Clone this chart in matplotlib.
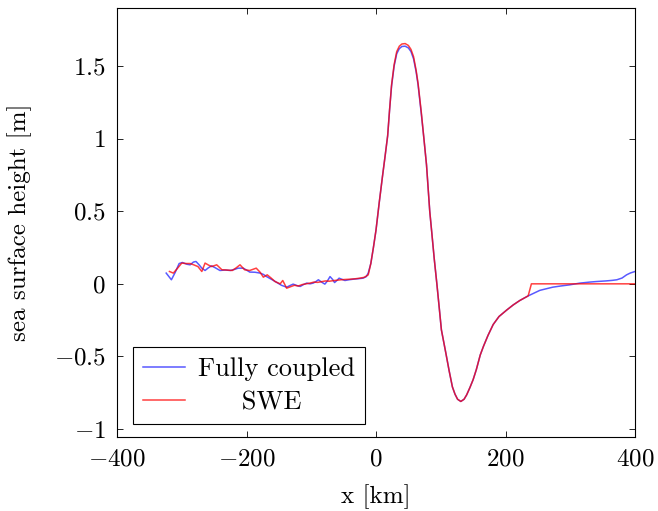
import matplotlib.pyplot as plt
from matplotlib.ticker import FuncFormatter

plt.rcParams['font.family'] = 'serif'
plt.rcParams['font.serif'] = ['cmr10', 'DejaVu Serif']
plt.rcParams['mathtext.fontset'] = 'cm'
plt.rcParams['axes.unicode_minus'] = True

# fully coupled model
blue_x = [-324, -316, -310, -304, -299, -292, -287, -282, -278, -273, -269, -264, -259, -254,
          -248, -241, -233, -225, -218, -213, -205, -200, -195, -187, -179, -174, -169, -161,
          -153, -146, -138, -133, -128, -122, -117, -112, -107, -102, -97, -93, -89, -84, -79,
          -75, -71, -67, -64, -60, -57, -52, -48, -42, -35, -28, -20, -15, -12, -8, -4, 0, 5,
          10, 14, 18, 21, 24, 28, 32, 36, 40, 45, 50, 54, 58, 62, 65, 70, 74, 78, 83, 86, 90,
          94, 98, 101, 108, 113, 118, 122, 126, 131, 136, 140, 145, 150, 155, 161, 166, 173,
          181, 190, 202, 212, 222, 235, 253, 262, 273, 285, 299, 315, 330, 341, 355, 365, 372,
          380, 387, 393, 400]
blue_y = [0.074, 0.028, 0.08, 0.14, 0.147, 0.135, 0.131, 0.15, 0.154, 0.13, 0.108, 0.092, 0.11,
          0.124, 0.11, 0.092, 0.095, 0.092, 0.10, 0.108, 0.108, 0.095, 0.081, 0.08, 0.074, 0.065,
          0.05, 0.03, 0.009, -0.01, -0.023, -0.012, -0.002, -0.012, -0.018, -0.005, 0.005, 0.0,
          0.005, 0.015, 0.028, 0.012, -0.002, 0.02, 0.05, 0.03, 0.009, 0.025, 0.039, 0.03, 0.023,
          0.028, 0.032, 0.035, 0.039, 0.05, 0.074, 0.14, 0.25, 0.37, 0.56, 0.74, 0.878, 1.02,
          1.2, 1.36, 1.50, 1.585, 1.62, 1.635, 1.637, 1.625, 1.6, 1.55, 1.46, 1.37, 1.17, 1.0,
          0.82, 0.5, 0.36, 0.17, 0.0, -0.18, -0.317, -0.48, -0.60, -0.71, -0.76, -0.795, -0.81,
          -0.795, -0.765, -0.715, -0.66, -0.59, -0.49, -0.43, -0.355, -0.28, -0.225, -0.18,
          -0.145, -0.115, -0.083, -0.045, -0.035, -0.023, -0.015, -0.007, 0.005, 0.012, 0.016,
          0.02, 0.024, 0.028, 0.04, 0.062, 0.075, 0.085]

# shallow water equations
red_x = [-319, -313, -306, -300, -294, -287, -281, -275, -269, -264, -259, -254, -250, -246,
         -238, -230, -222, -216, -210, -203, -195, -190, -185, -179, -174, -168, -162, -156,
         -148, -144, -138, -132, -126, -120, -114, -108, -102, -96, -90, -84, -78, -72, -66,
         -60, -54, -48, -40, -32, -25, -18, -12, -8, -4, 0, 5, 10, 14, 18, 21, 24, 28, 32, 36,
         40, 45, 50, 54, 58, 62, 65, 70, 74, 78, 83, 86, 90, 94, 98, 101, 108, 113, 118, 122,
         126, 131, 136, 140, 145, 150, 155, 161, 166, 173, 181, 190, 202, 212, 222, 235, 240,
         300, 400]
red_y = [0.085, 0.074, 0.11, 0.143, 0.14, 0.14, 0.13, 0.119, 0.085, 0.143, 0.13, 0.119, 0.125,
         0.131, 0.097, 0.095, 0.092, 0.11, 0.131, 0.097, 0.092, 0.1, 0.108, 0.08, 0.046, 0.062,
         0.04, 0.016, 0.0, 0.023, -0.03, -0.02, -0.01, -0.015, -0.005, 0.0, 0.005, 0.012, 0.01,
         0.015, 0.02, 0.018, 0.022, 0.025, 0.028, 0.03, 0.032, 0.035, 0.039, 0.045, 0.062, 0.14,
         0.25, 0.37, 0.56, 0.74, 0.878, 1.02, 1.2, 1.37, 1.51, 1.6, 1.637, 1.652, 1.655, 1.642,
         1.615, 1.565, 1.47, 1.38, 1.18, 1.0, 0.82, 0.5, 0.36, 0.17, 0.0, -0.18, -0.317, -0.48,
         -0.60, -0.71, -0.76, -0.795, -0.81, -0.795, -0.765, -0.715, -0.66, -0.59, -0.49, -0.43,
         -0.355, -0.28, -0.225, -0.18, -0.145, -0.115, -0.083, 0.0, 0.0, 0.0]

x_ticks = [-400, -200, 0, 200, 400]
y_ticks = [-1, -0.5, 0, 0.5, 1, 1.5]

fig = plt.figure(figsize=(6.58, 5.11), dpi=100)
ax = fig.add_axes([117 / 658, 1 - 437 / 511, 518 / 658, 429 / 511])

ax.plot(blue_x, blue_y, color='blue', alpha=0.65, linewidth=1.1, label='Fully coupled')
ax.plot(red_x, red_y, color='red', alpha=0.75, linewidth=1.1, label='     SWE')

ax.set_xlim(-400, 400)
ax.set_ylim(-1.055, 1.9)
ax.set_xticks(x_ticks)
ax.set_yticks(y_ticks)
fmt = FuncFormatter(lambda v, _: '$%g$' % v)
ax.xaxis.set_major_formatter(fmt)
ax.yaxis.set_major_formatter(fmt)
ax.tick_params(direction='in', top=True, right=True, length=4, width=0.6,
               labelsize=18, pad=8)
for s in ax.spines.values():
    s.set_linewidth(0.8)

ax.set_xlabel('x [km]', fontsize=18, labelpad=10)
ax.set_ylabel('sea surface height [m]', fontsize=18, labelpad=16)

leg = ax.legend(loc='lower left', bbox_to_anchor=(0.03, 0.03), fontsize=19,
                fancybox=False, framealpha=1, edgecolor='black', borderpad=0.38,
                handlelength=1.6, handletextpad=0.5, labelspacing=0.36,
                borderaxespad=0)
leg.get_frame().set_linewidth(0.8)

fig.savefig('out.png', dpi=100)
